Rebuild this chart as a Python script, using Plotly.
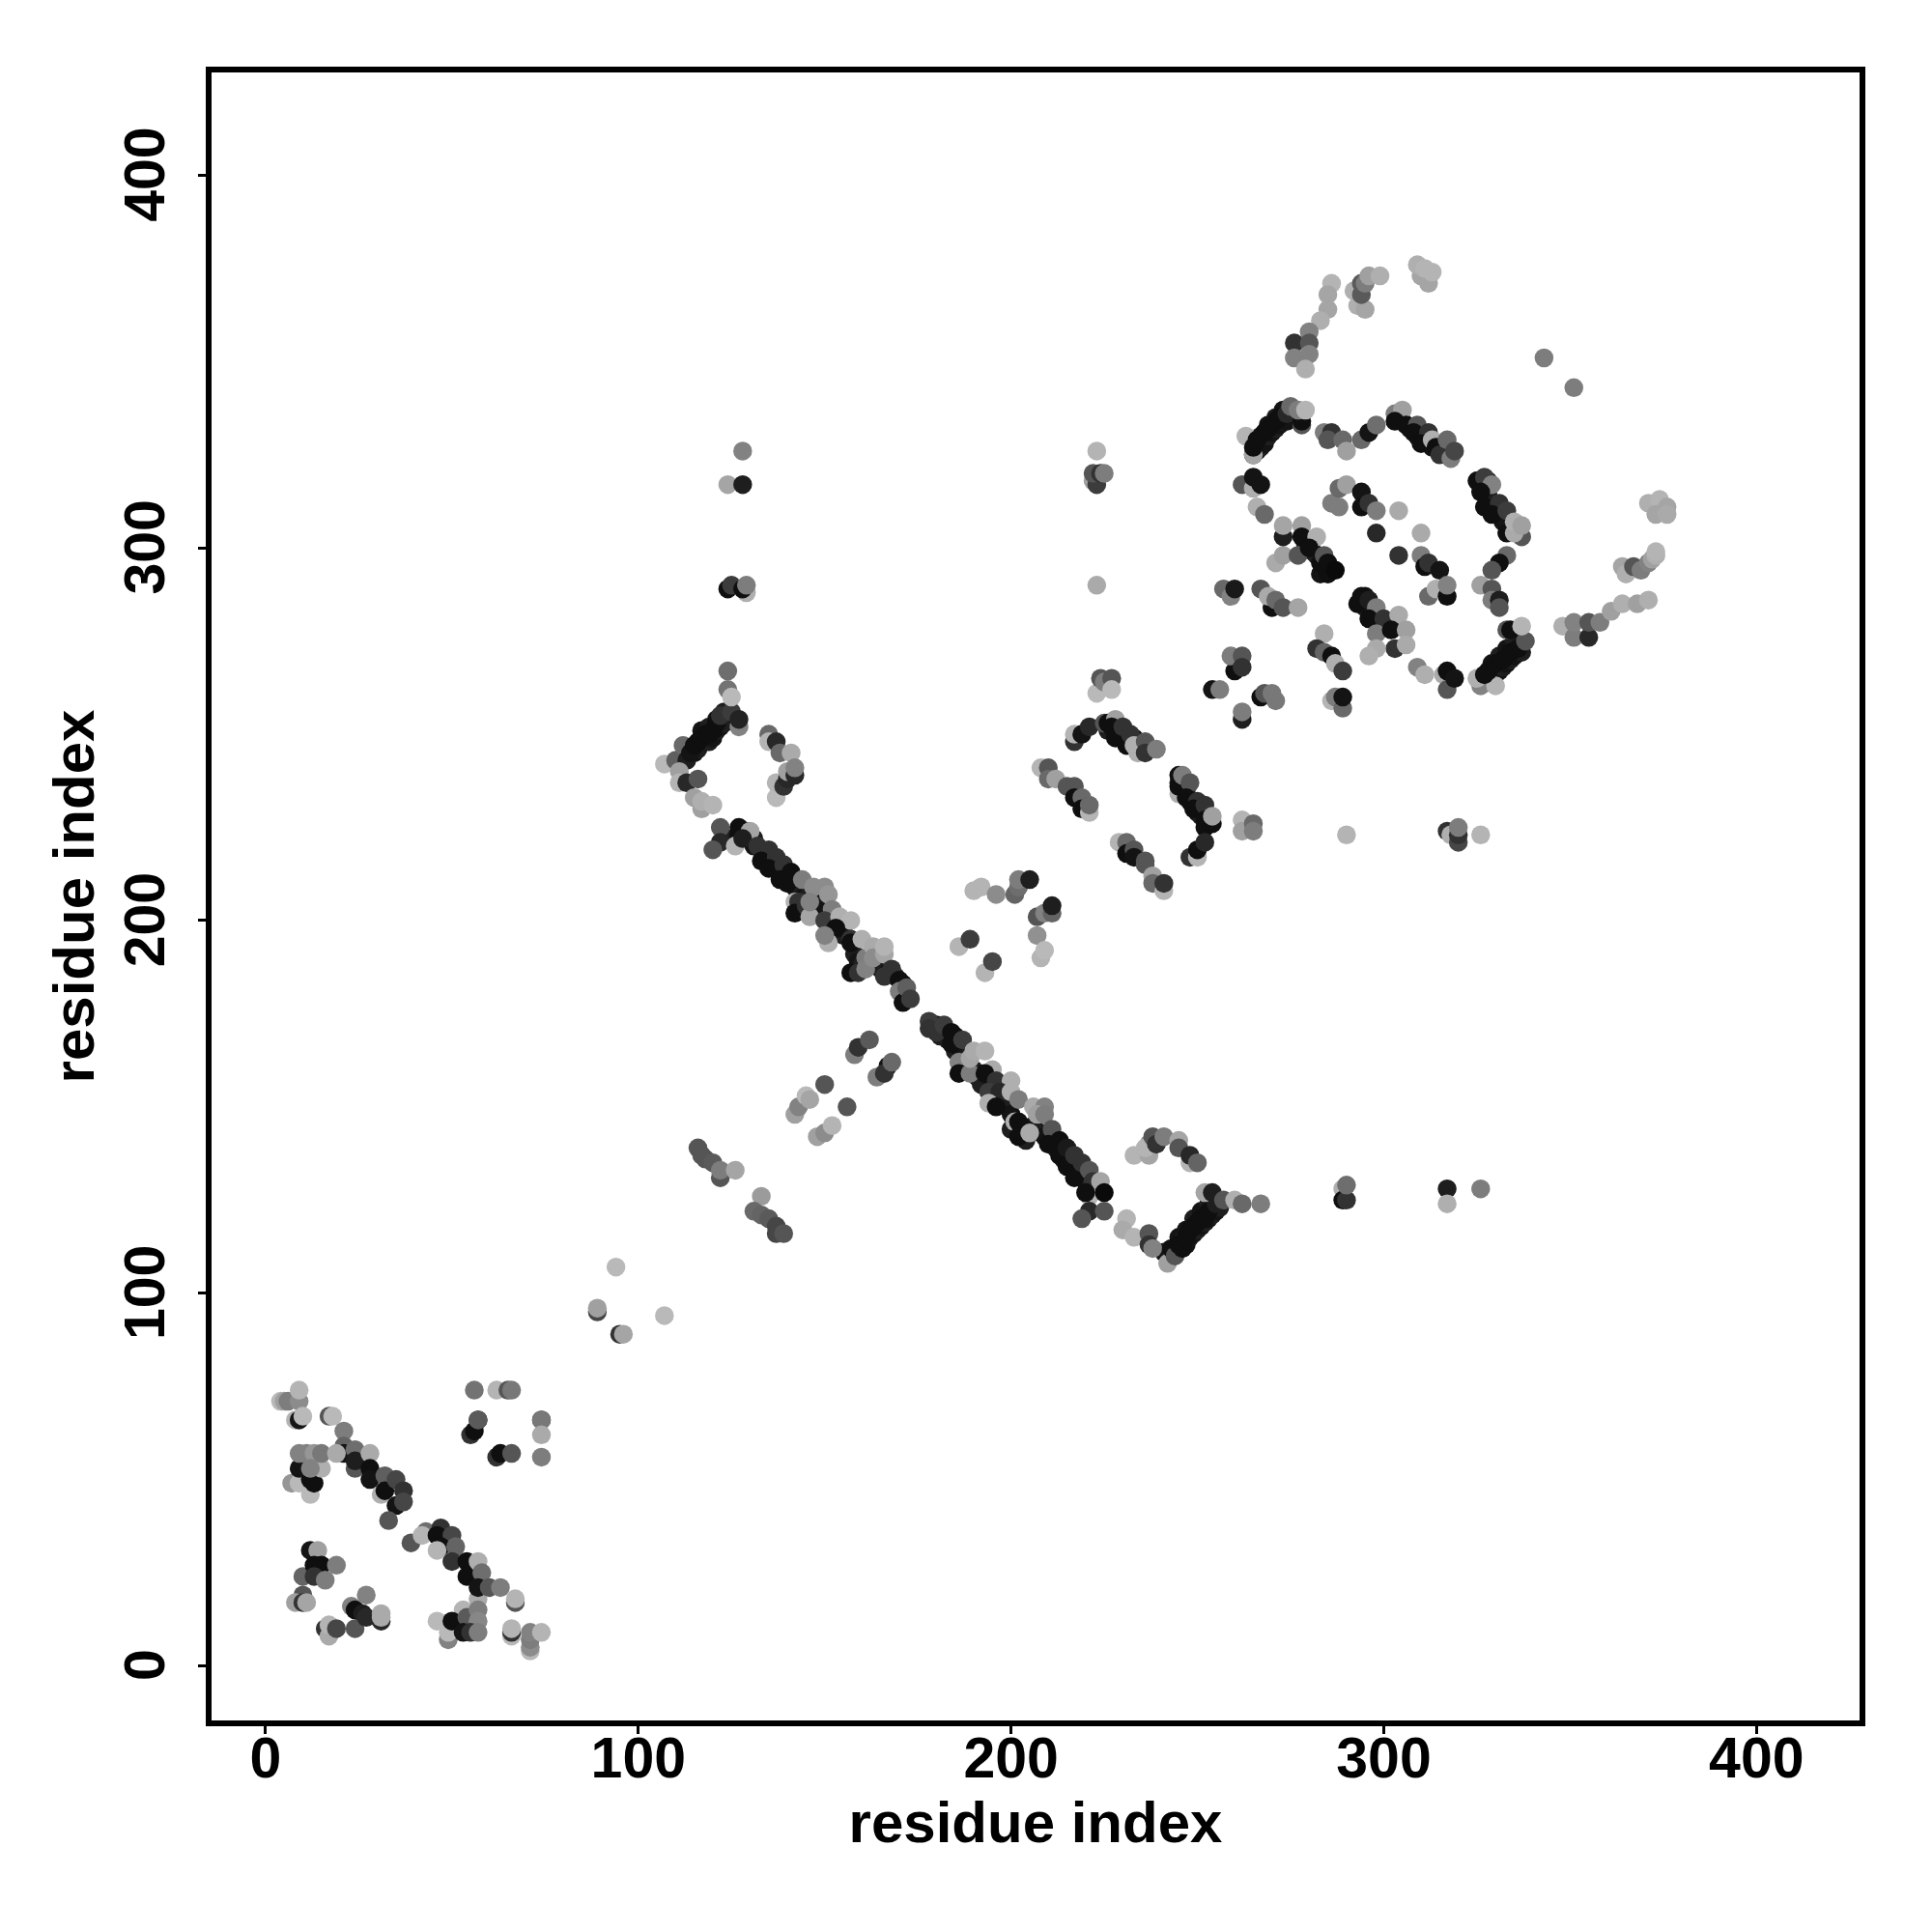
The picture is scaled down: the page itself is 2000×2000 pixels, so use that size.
import plotly.graph_objects as go

# Each cluster: residue x, residue y, grey shade of each contact (0 black .. 255 white)
# Dense dark contacts of the main bands, drawn first
x00 = [124, 129, 131, 131, 133, 134, 136, 136, 138, 138, 140, 140, 142, 142, 144, 144, 146, 148, 148, 150, 152, 154, 155, 155, 158, 159, 160, 163, 165, 167, 169, 171, 172,
       179, 180, 181, 182, 183, 185, 185, 186, 188, 187, 190, 191, 192, 195, 196, 198, 199, 200, 200, 203, 204, 206, 208, 209, 211, 211, 212, 214, 214, 216, 216, 218, 218, 220, 220, 222, 223,
       241, 242, 243, 245, 246, 247, 248, 249, 250, 251, 252, 253, 254, 255, 256, 247, 249, 251, 253,
       113, 115, 116, 118, 119, 120, 121, 122, 123, 117, 119, 121, 123,
       265, 266, 267, 268, 269, 270, 271, 272, 273, 274, 267, 269, 271, 273,
       304, 305, 307, 309, 311, 313, 316, 317,
       327, 328, 328, 330, 331, 332, 334, 326, 328,
       328, 329, 330, 331, 332, 333, 334, 335, 337, 329, 331, 333, 335,
       245, 246, 247, 248, 249, 250, 251, 253,
       226, 229, 231, 233, 235,
       279, 281, 282, 284, 286, 283,
       295, 295, 297, 298, 299, 301]
y00 = [222, 224, 222, 220, 219, 217, 217, 215, 215, 213, 213, 211, 211, 209, 208, 206, 207, 205, 203, 203, 199, 198, 196, 198, 191, 189, 188, 188, 187, 186, 185, 183, 180,
       172, 172, 169, 170, 168, 169, 165, 166, 163, 160, 160, 158, 156, 155, 153, 152, 150, 148, 144, 144, 141, 145, 143, 142, 140, 142, 139, 138, 136, 136, 134, 133, 135, 132, 130, 128, 128,
       111, 110, 110, 115, 114, 117, 115, 116, 117, 118, 119, 120, 121, 122, 123, 113, 120, 122, 124,
       245, 245, 246, 248, 248, 249, 251, 252, 253, 251, 252, 254, 256,
       325, 326, 327, 328, 330, 331, 332, 333, 334, 334, 330, 333, 335, 337,
       335, 334, 332, 330, 329, 327, 326, 327,
       316, 314, 313, 311, 309, 307, 305, 317, 318,
       264, 265, 266, 267, 268, 269, 270, 271, 272, 269, 271, 273, 275,
       237, 235, 235, 232, 232, 229, 228, 228,
       251, 251, 250, 249, 247,
       301, 299, 298, 295, 294, 293,
       284, 287, 283, 282, 279, 280]
g00 = [30, 30, 30, 20, 30, 20, 30, 20, 30, 20, 30, 20, 30, 20, 30, 20, 30, 20, 30, 20, 30, 20, 30, 20, 30, 20, 30, 20, 30, 20, 30, 20, 30,
       30, 20, 30, 20, 30, 20, 30, 20, 30, 20, 30, 20, 30, 20, 30, 20, 30, 20, 30, 20, 30, 20, 30, 20, 30, 20, 30, 20, 30, 20, 30, 20, 30, 20, 30, 20, 30,
       30, 20, 30, 20, 30, 20, 30, 20, 30, 20, 30, 20, 30, 20, 30, 20, 30, 20, 30,
       30, 20, 30, 20, 30, 20, 30, 20, 30, 20, 30, 20, 30,
       30, 20, 30, 20, 30, 20, 30, 20, 30, 20, 30, 20, 30, 20,
       30, 20, 30, 20, 30, 20, 30, 20,
       30, 20, 30, 20, 30, 20, 30, 20, 30,
       30, 20, 30, 20, 30, 20, 30, 20, 30, 20, 30, 20, 30,
       30, 20, 30, 20, 30, 20, 30, 20,
       30, 20, 30, 20, 30,
       30, 20, 30, 20, 30, 20,
       30, 20, 30, 20, 30, 20]

x01 = [4, 5, 6, 9, 9, 8, 9, 10, 17, 18]
y01 = [71, 71, 71, 71, 74, 66, 66, 67, 67, 67]
g01 = [185, 160, 125, 140, 180, 180, 20, 185, 85, 185]

x02 = [21, 21, 21, 24, 24, 24, 28, 28, 28, 32, 31, 32, 35, 37, 35, 37, 33]
y02 = [63, 59, 57, 58, 53, 55, 57, 53, 50, 51, 46, 47, 50, 47, 43, 44, 39]
g02 = [125, 100, 20, 110, 85, 30, 170, 15, 20, 95, 175, 15, 70, 50, 20, 70, 85]

x03 = [7, 9, 12, 12, 13, 9, 15, 9, 11, 13, 15, 19, 12]
y03 = [49, 49, 46, 50, 49, 53, 53, 57, 57, 57, 57, 57, 53]
g03 = [150, 185, 185, 15, 15, 20, 175, 130, 130, 150, 120, 170, 130]

x04 = [39, 43, 42, 47, 46, 50, 47, 46, 51, 50, 54, 57, 54, 58, 57, 57, 60, 63, 67, 67]
y04 = [33, 36, 35, 37, 35, 35, 32, 31, 32, 28, 28, 28, 24, 25, 18, 21, 21, 21, 17, 18]
g04 = [85, 110, 180, 50, 15, 70, 15, 180, 100, 50, 15, 175, 15, 110, 170, 20, 85, 125, 85, 180]

x05 = [10, 12, 14, 13, 15, 19, 13, 16]
y05 = [24, 31, 31, 27, 27, 27, 24, 23]
g05 = [100, 20, 160, 15, 15, 125, 50, 125]

x06 = [10, 8, 10, 11]
y06 = [19, 17, 17, 17]
g06 = [85, 160, 50, 165]

x07 = [16, 17, 17, 19]
y07 = [10, 8, 11, 10]
g07 = [50, 170, 180, 70]

x08 = [27, 23, 24, 26, 24, 27, 31, 31, 31]
y08 = [19, 16, 15, 14, 10, 13, 12, 14, 13]
g08 = [130, 130, 15, 30, 85, 40, 40, 170, 170]

x09 = [46, 53, 49, 49, 50, 54, 53, 57, 57, 55, 57]
y09 = [12, 15, 7, 9, 12, 13, 9, 15, 12, 9, 9]
g09 = [185, 180, 130, 185, 15, 90, 20, 125, 135, 50, 125]

x10 = [66, 66, 66, 71, 71, 71, 71, 74]
y10 = [8, 9, 10, 4, 5, 7, 9, 9]
g10 = [185, 50, 180, 185, 140, 125, 130, 180]

x11 = [56, 62, 65, 66, 55, 56, 57, 57, 62, 63, 66, 74, 74, 74, 74]
y11 = [74, 74, 74, 74, 62, 63, 66, 66, 56, 57, 57, 66, 66, 62, 56]
g11 = [115, 180, 85, 120, 50, 15, 15, 90, 50, 15, 85, 50, 120, 170, 125]

x12 = [94, 89, 89, 95, 96, 107]
y12 = [107, 95, 96, 89, 89, 94]
g12 = [185, 70, 160, 50, 165, 185]

x13 = [107, 110, 112, 113, 114, 115, 116, 117, 118, 119, 120, 121, 122, 125, 124, 124, 125, 127, 127]
y13 = [242, 243, 247, 243, 245, 247, 248, 249, 250, 250, 251, 253, 255, 256, 267, 262, 260, 252, 254]
g13 = [185, 95, 105, 30, 20, 15, 15, 15, 15, 15, 15, 15, 50, 60, 110, 115, 185, 130, 35]

x14 = [111, 111, 113, 116, 115, 117, 117, 120]
y14 = [240, 237, 237, 238, 233, 230, 232, 231]
g14 = [160, 180, 40, 85, 160, 160, 175, 180]

x15 = [135, 135, 137, 138, 141, 137, 137, 139, 140, 140, 142, 142]
y15 = [250, 248, 248, 245, 245, 233, 237, 236, 238, 240, 239, 241]
g15 = [105, 180, 40, 105, 170, 185, 180, 50, 40, 160, 40, 130]

x16 = [128, 124, 128, 124, 125, 129, 128, 129]
y16 = [326, 317, 317, 289, 290, 288, 289, 290]
g16 = [130, 165, 30, 15, 60, 175, 15, 125]

x17 = [223, 222, 223, 222, 224, 225, 223]
y17 = [326, 318, 317, 320, 320, 320, 290]
g17 = [180, 160, 60, 85, 50, 125, 170]

x18 = [223, 224, 225, 227, 227]
y18 = [261, 265, 264, 265, 262]
g18 = [185, 85, 125, 85, 185]

x19 = [122, 122, 120, 127, 127, 126, 130, 128, 132, 135, 133, 137, 135, 139, 141, 138, 140]
y19 = [225, 221, 219, 225, 223, 220, 224, 222, 220, 219, 216, 217, 214, 215, 213, 211, 210]
g19 = [85, 40, 85, 15, 15, 180, 165, 30, 50, 50, 15, 50, 15, 50, 15, 15, 15]

x20 = [142, 143, 142, 145, 146, 144, 147, 150, 151, 146, 152, 150, 154, 157, 153, 151, 150]
y20 = [205, 205, 202, 204, 201, 211, 209, 209, 207, 205, 203, 200, 201, 200, 198, 194, 196]
g20 = [180, 50, 15, 50, 165, 125, 140, 140, 150, 130, 125, 60, 175, 180, 15, 175, 130]

x21 = [157, 157, 160, 157, 159, 161, 161, 163, 163, 166, 166, 166, 168, 170, 170, 171, 172, 173]
y21 = [195, 194, 195, 186, 186, 190, 187, 193, 190, 191, 193, 185, 187, 184, 181, 178, 182, 179]
g21 = [50, 15, 175, 15, 50, 125, 130, 170, 140, 165, 180, 50, 50, 15, 125, 15, 95, 60]

x22 = [178, 178, 180, 182, 184, 184, 187, 186, 186, 189, 189, 190, 193, 195, 193, 196, 200, 194, 197, 194, 196, 200]
y22 = [173, 171, 170, 172, 170, 167, 168, 162, 159, 159, 163, 165, 165, 160, 159, 157, 157, 154, 154, 151, 150, 154]
g22 = [60, 50, 50, 60, 15, 15, 60, 130, 15, 125, 165, 170, 180, 170, 15, 50, 175, 60, 40, 175, 15, 175]

x23 = [201, 202, 202, 205, 202, 206, 209, 207, 209, 211, 210, 213, 213, 215, 215, 217, 217, 219, 221, 222, 224, 221, 220, 225, 221, 219, 225]
y23 = [146, 146, 142, 143, 152, 150, 150, 148, 148, 144, 140, 141, 137, 139, 134, 137, 131, 135, 133, 130, 130, 126, 127, 127, 122, 120, 122]
g23 = [175, 15, 15, 170, 125, 170, 130, 160, 125, 85, 15, 15, 15, 25, 15, 50, 15, 50, 85, 50, 165, 180, 15, 10, 40, 85, 85]

x24 = [231, 230, 233, 237, 237, 238, 242, 243, 244, 245, 246, 247, 248, 249, 250, 251, 252, 253, 255, 252, 254, 257, 260, 262, 267]
y24 = [120, 117, 115, 116, 113, 112, 108, 112, 110, 113, 112, 115, 117, 118, 119, 120, 120, 122, 124, 127, 127, 125, 125, 124, 124]
g24 = [180, 170, 180, 85, 50, 130, 160, 15, 85, 15, 15, 15, 15, 15, 15, 15, 15, 15, 30, 165, 30, 85, 175, 105, 125]

x25 = [233, 237, 237, 236, 238, 239, 241, 245, 245, 248, 248, 250]
y25 = [137, 137, 140, 139, 142, 140, 142, 141, 139, 135, 137, 135]
g25 = [180, 165, 125, 180, 85, 50, 125, 165, 85, 180, 40, 100]

x26 = [116, 117, 118, 120, 122, 122, 126]
y26 = [139, 137, 136, 135, 131, 133, 133]
g26 = [85, 85, 85, 90, 85, 125, 165]

x27 = [133, 131, 133, 135, 137, 137, 139]
y27 = [126, 122, 121, 120, 118, 116, 116]
g27 = [155, 105, 100, 90, 70, 70, 85]

x28 = [158, 159, 162, 164, 167, 166, 168]
y28 = [164, 166, 168, 158, 161, 159, 162]
g28 = [125, 50, 90, 125, 20, 50, 105]

x29 = [150, 142, 143, 145, 146, 148, 150, 152, 156]
y29 = [156, 148, 150, 153, 152, 142, 143, 145, 150]
g29 = [85, 160, 130, 185, 165, 160, 140, 180, 85]

x30 = [186, 189, 193, 195, 190, 192, 196, 201, 202, 202, 205, 207, 209, 211, 211, 207, 208, 209]
y30 = [193, 195, 186, 189, 208, 209, 207, 207, 209, 211, 211, 201, 202, 202, 204, 196, 190, 192]
g30 = [180, 60, 180, 70, 180, 180, 140, 100, 110, 125, 30, 85, 130, 100, 30, 145, 180, 185]

x31 = [217, 217, 219, 221, 225, 226, 228, 227, 228, 230, 231, 232, 233, 234, 236, 236, 239]
y31 = [248, 250, 250, 252, 253, 253, 254, 252, 249, 252, 247, 250, 247, 245, 248, 245, 246]
g31 = [50, 180, 20, 40, 85, 15, 160, 15, 15, 50, 15, 50, 175, 175, 85, 50, 125]

x32 = [208, 210, 210, 212, 215, 217, 217, 219, 219, 221, 221]
y32 = [241, 241, 238, 238, 236, 236, 233, 233, 230, 229, 231]
g32 = [180, 85, 105, 160, 85, 85, 15, 105, 15, 180, 105]

x33 = [229, 231, 231, 233, 233, 236, 236, 238, 238, 241, 241]
y33 = [221, 221, 218, 219, 217, 216, 215, 212, 210, 208, 210]
g33 = [180, 105, 15, 85, 20, 85, 85, 160, 105, 180, 50]

x34 = [245, 245, 245, 246, 248, 247, 250, 249, 252, 252, 252, 254, 254, 248, 250, 250, 252]
y34 = [234, 236, 239, 239, 237, 233, 232, 230, 231, 227, 225, 226, 228, 217, 217, 219, 221]
g34 = [175, 15, 15, 125, 85, 15, 50, 15, 50, 15, 15, 15, 160, 50, 180, 15, 40]

x35 = [262, 262, 265, 265, 290, 317, 318, 320, 320, 320, 326]
y35 = [227, 224, 226, 224, 223, 224, 223, 221, 223, 225, 223]
g35 = [180, 160, 105, 125, 180, 50, 175, 70, 50, 125, 180]

x36 = [289, 289, 290, 290, 317, 317, 326]
y36 = [128, 125, 125, 129, 128, 124, 128]
g36 = [175, 15, 50, 110, 30, 175, 125]

x37 = [254, 256, 262, 262, 267, 268, 270, 271, 286, 287, 289, 289]
y37 = [262, 262, 254, 256, 260, 261, 261, 259, 259, 260, 257, 260]
g37 = [20, 125, 30, 125, 15, 85, 120, 120, 180, 125, 105, 20]

x38 = [286, 285, 285, 283, 280, 276, 280, 276, 280, 279]
y38 = [371, 368, 364, 361, 358, 355, 355, 351, 352, 348]
g38 = [180, 165, 165, 175, 130, 50, 85, 130, 130, 175]

x39 = [292, 293, 295, 294, 294, 295, 296, 299, 310, 312, 309, 311, 313, 343, 351]
y39 = [369, 365, 364, 368, 371, 371, 373, 373, 373, 371, 376, 375, 374, 351, 343]
g39 = [175, 175, 165, 90, 90, 125, 160, 175, 165, 165, 175, 180, 180, 125, 125]

x40 = [263, 265, 265, 266, 268, 269, 271, 272, 274, 275, 278, 278, 277, 279]
y40 = [330, 325, 327, 329, 331, 332, 334, 335, 336, 338, 333, 334, 337, 337]
g40 = [180, 165, 15, 15, 15, 15, 15, 15, 40, 105, 85, 15, 125, 180]

x41 = [284, 286, 285, 289, 290, 294, 296, 298]
y41 = [331, 331, 329, 329, 326, 329, 331, 333]
g41 = [125, 50, 85, 105, 160, 105, 20, 110]

x42 = [303, 305, 303, 306, 309, 308, 312, 310, 313, 314, 315, 317, 318, 319]
y42 = [336, 337, 334, 333, 333, 331, 331, 328, 329, 327, 325, 329, 324, 326]
g42 = [125, 160, 15, 15, 85, 15, 50, 15, 175, 15, 50, 105, 125, 70]

x43 = [325, 327, 329, 326, 327, 331, 329, 333, 333, 337, 335, 335, 337]
y43 = [318, 319, 317, 315, 311, 312, 309, 310, 304, 303, 304, 307, 306]
g43 = [15, 60, 130, 15, 15, 50, 15, 60, 15, 85, 170, 175, 160]

x44 = [333, 331, 329, 326, 329, 329, 331, 331]
y44 = [298, 296, 294, 290, 289, 286, 286, 284]
g44 = [105, 15, 85, 160, 85, 125, 30, 85]

x45 = [326, 330, 325, 327, 328, 330, 332, 334, 336, 333, 334, 338, 337]
y45 = [263, 263, 265, 266, 267, 269, 270, 272, 273, 278, 278, 275, 279]
g45 = [130, 180, 175, 15, 15, 15, 15, 15, 15, 85, 15, 85, 180]

x46 = [309, 311, 316, 317, 317, 319]
y46 = [268, 266, 266, 262, 267, 265]
g46 = [130, 175, 170, 85, 15, 20]

x47 = [286, 288, 288, 290, 294, 294, 296, 298, 304, 298, 310, 304, 310, 311, 312, 315, 312, 314, 317, 317]
y47 = [312, 311, 316, 317, 315, 311, 312, 310, 310, 304, 304, 298, 298, 295, 296, 294, 287, 289, 287, 290]
g47 = [125, 125, 105, 160, 20, 15, 50, 125, 170, 40, 170, 50, 125, 15, 50, 20, 105, 175, 15, 130]

x48 = [262, 265, 265, 267, 266, 268]
y48 = [317, 316, 319, 317, 311, 309]
g48 = [85, 175, 20, 20, 175, 105]

x49 = [271, 273, 277, 273, 273, 278, 278, 282, 280, 283, 284, 285, 285, 287]
y49 = [296, 298, 298, 303, 306, 306, 303, 303, 300, 296, 298, 293, 296, 294]
g49 = [170, 160, 85, 30, 165, 160, 15, 175, 15, 15, 85, 15, 15, 10]

x50 = [257, 259, 260, 267, 270, 269, 271, 273, 277]
y50 = [289, 287, 289, 289, 284, 287, 286, 284, 284]
g50 = [105, 130, 25, 85, 15, 170, 105, 85, 165]

x51 = [294, 293, 296, 298, 296, 300, 304, 298, 302, 306, 303, 306, 298, 296]
y51 = [287, 285, 286, 284, 281, 281, 282, 277, 278, 278, 273, 274, 273, 271]
g51 = [15, 15, 30, 125, 15, 50, 170, 125, 15, 160, 50, 170, 170, 175]

x52 = [284, 282, 284, 286, 287, 289, 260, 259, 262, 262]
y52 = [277, 273, 272, 271, 269, 267, 267, 271, 271, 268]
g52 = [175, 50, 100, 15, 175, 60, 15, 125, 85, 50]

x53 = [348, 351, 351, 355, 355, 358, 361, 364, 368, 371]
y53 = [279, 276, 280, 276, 280, 280, 283, 285, 285, 286]
g53 = [175, 125, 130, 40, 85, 125, 160, 175, 160, 175]

x54 = [364, 365, 367, 369, 371, 372, 373, 373, 371, 374, 376, 373, 376]
y54 = [295, 293, 295, 294, 296, 297, 298, 299, 312, 313, 311, 309, 309]
g54 = [165, 175, 85, 125, 130, 160, 175, 180, 175, 180, 165, 165, 170]

x_tick_values = [0, 100, 200, 300, 400]
y_tick_values = [0, 100, 200, 300, 400]
x_label = "residue index"
y_label = "residue index"

residue_x = (x00 + x01 + x02 + x03 + x04 + x05 + x06 + x07 + x08 + x09 + x10 + x11 + x12 + x13 + x14 + x15 + x16 + x17 + x18
             + x19 + x20 + x21 + x22 + x23 + x24 + x25 + x26 + x27 + x28 + x29 + x30 + x31 + x32 + x33 + x34 + x35 + x36
             + x37 + x38 + x39 + x40 + x41 + x42 + x43 + x44 + x45 + x46 + x47 + x48 + x49 + x50 + x51 + x52 + x53 + x54)
residue_y = (y00 + y01 + y02 + y03 + y04 + y05 + y06 + y07 + y08 + y09 + y10 + y11 + y12 + y13 + y14 + y15 + y16 + y17 + y18
             + y19 + y20 + y21 + y22 + y23 + y24 + y25 + y26 + y27 + y28 + y29 + y30 + y31 + y32 + y33 + y34 + y35 + y36
             + y37 + y38 + y39 + y40 + y41 + y42 + y43 + y44 + y45 + y46 + y47 + y48 + y49 + y50 + y51 + y52 + y53 + y54)
shade = (g00 + g01 + g02 + g03 + g04 + g05 + g06 + g07 + g08 + g09 + g10 + g11 + g12 + g13 + g14 + g15 + g16 + g17 + g18
         + g19 + g20 + g21 + g22 + g23 + g24 + g25 + g26 + g27 + g28 + g29 + g30 + g31 + g32 + g33 + g34 + g35 + g36
         + g37 + g38 + g39 + g40 + g41 + g42 + g43 + g44 + g45 + g46 + g47 + g48 + g49 + g50 + g51 + g52 + g53 + g54)
assert len(residue_x) == len(residue_y) == len(shade), (len(residue_x), len(residue_y), len(shade))

FONT = "Liberation Sans"
fig = go.Figure(go.Scatter(
    x=residue_x, y=residue_y, mode="markers",
    marker=dict(size=19.5, color=shade, colorscale=[[0, "rgb(0,0,0)"], [1, "rgb(255,255,255)"]],
                cmin=0, cmax=255, showscale=False, line=dict(width=0)),
    hoverinfo="skip",
))

axis_common = dict(
    showgrid=False, zeroline=False, showline=True, mirror=True,
    linecolor="black", linewidth=5.5, ticks="outside", ticklen=8, tickwidth=3, tickcolor="black",
    tickfont=dict(family=FONT, size=59, color="black", weight="bold"),
    title_font=dict(family=FONT, size=60, color="black", weight="bold"),
)
fig.update_layout(
    width=2000, height=2000, showlegend=False,
    paper_bgcolor="white", plot_bgcolor="white",
    margin=dict(l=219, r=75, t=75, b=219, autoexpand=False),
    xaxis=dict(range=[-14.5, 427.65], tickvals=x_tick_values, ticklabelstandoff=-26,
               title=dict(text=x_label, standoff=5), **axis_common),
    yaxis=dict(range=[-14.65, 427.6], tickvals=y_tick_values, tickangle=-90, ticklabelstandoff=12, ticklabelshift=8,
               title=dict(text=y_label, standoff=2), **axis_common),
)
fig.write_html("out.html", config={"displayModeBar": False}, post_script="document.body.style.margin='0';")
